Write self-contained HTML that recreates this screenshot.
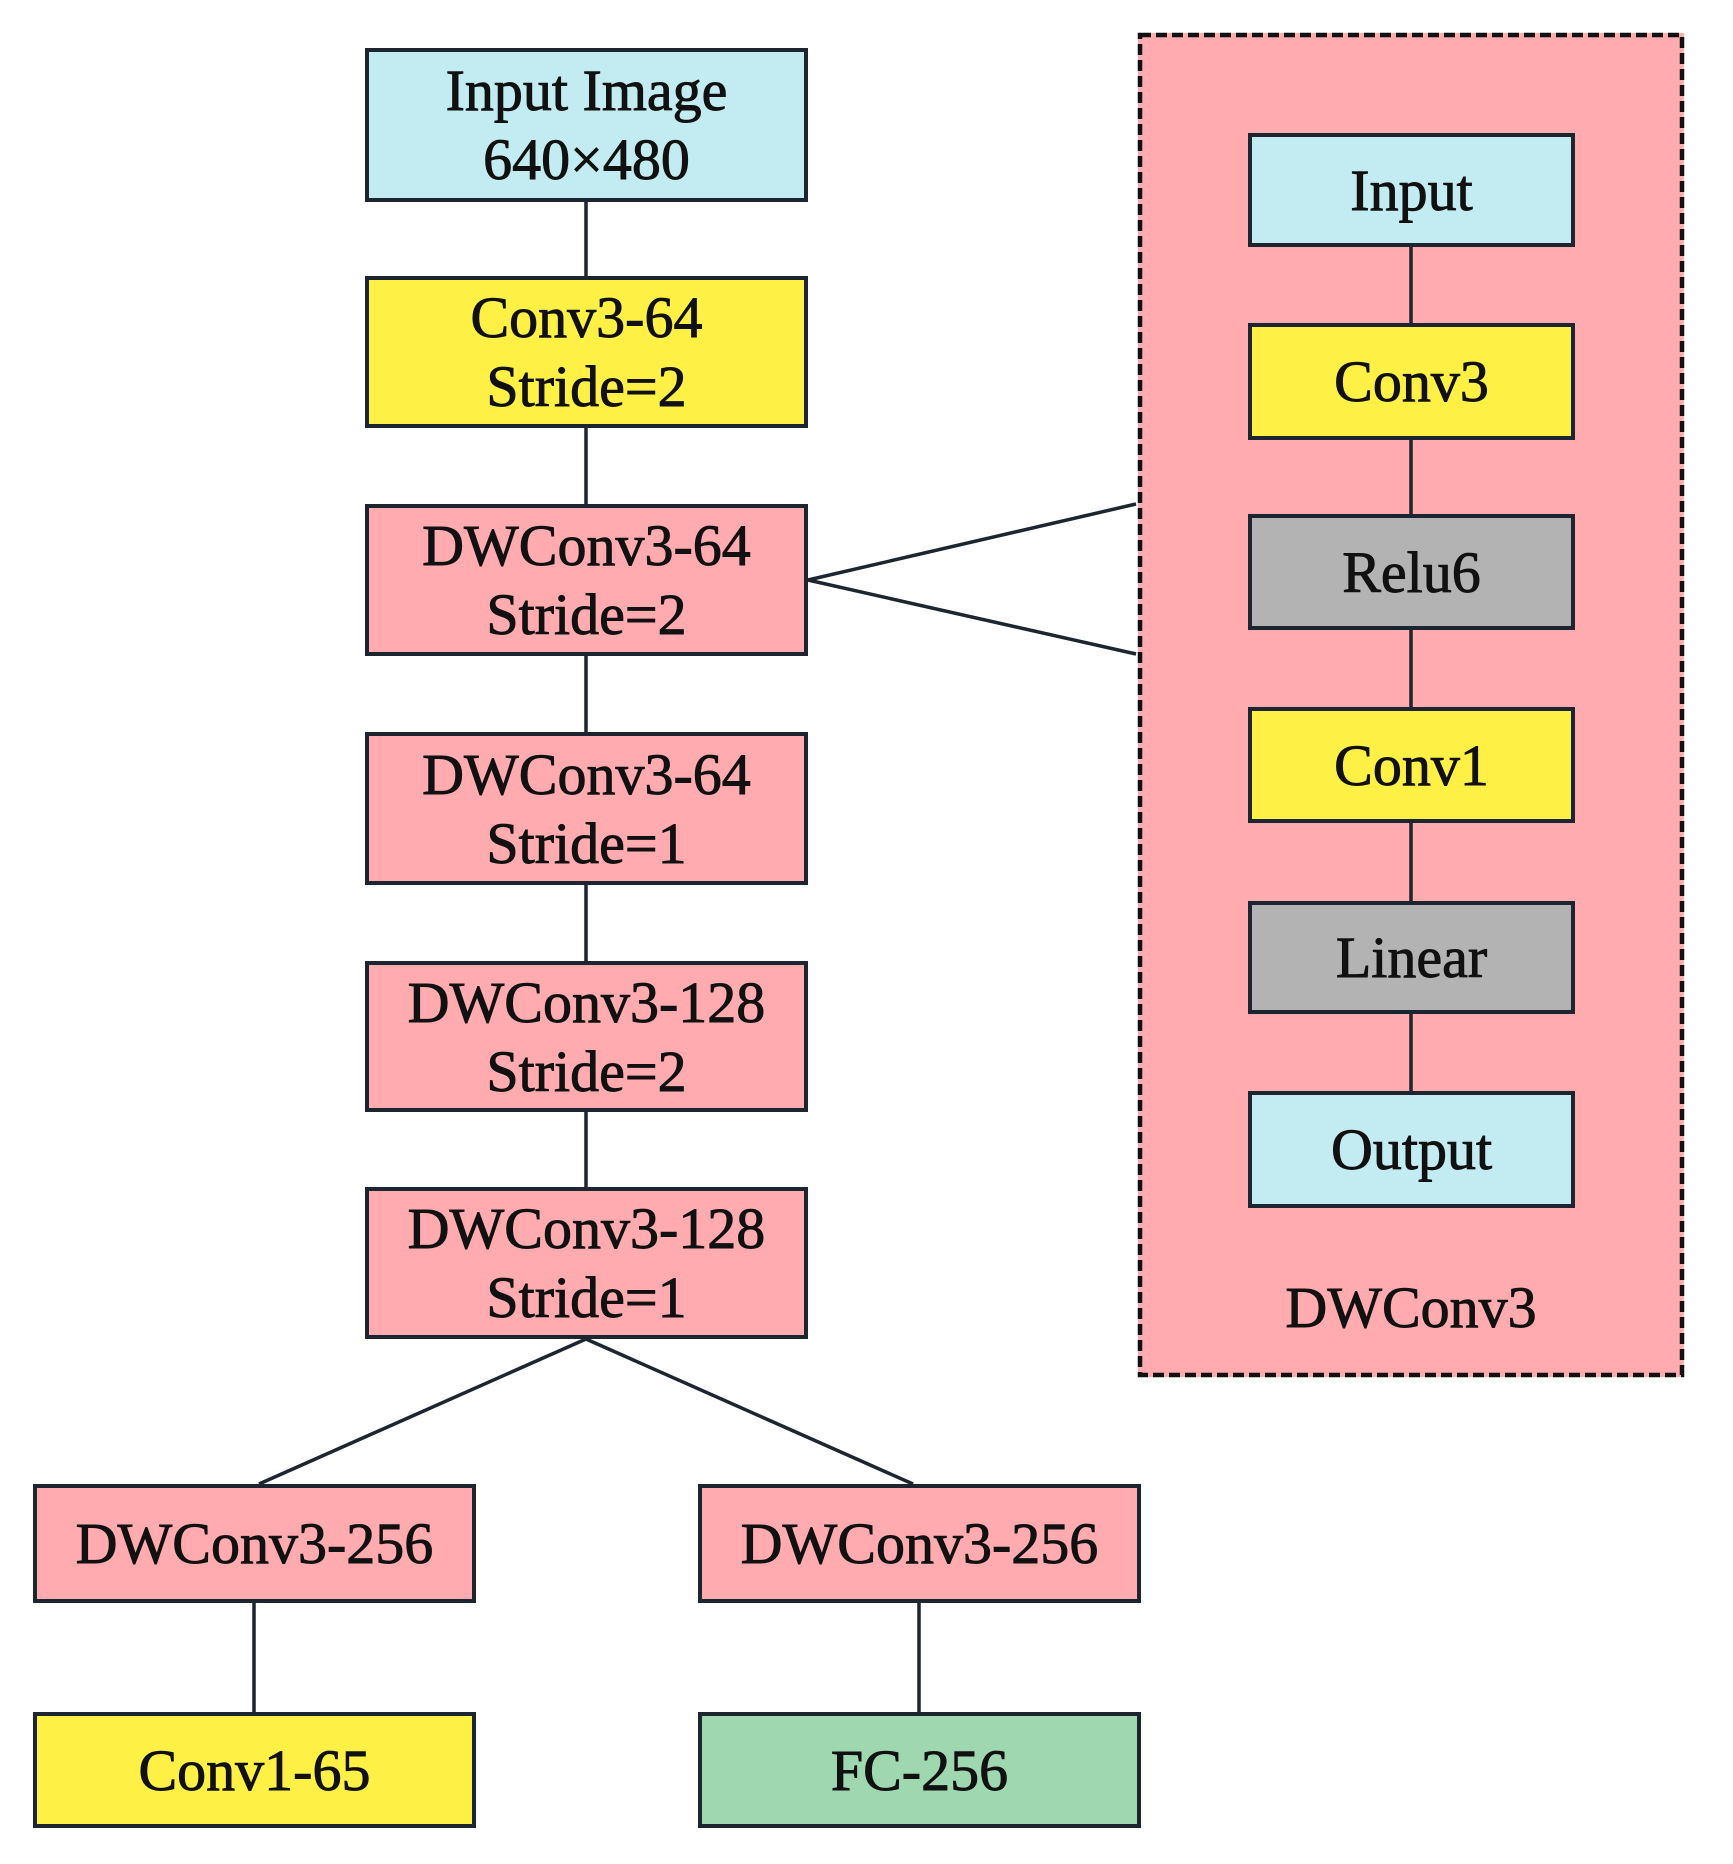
<!DOCTYPE html>
<html><head><style>
html,body{margin:0;padding:0;background:#fff;}
body{width:1733px;height:1864px;position:relative;overflow:hidden;font-family:"Liberation Serif",serif;}
.b{position:absolute;box-sizing:border-box;border:4px solid #1c2530;display:flex;flex-direction:column;align-items:center;justify-content:center;font-size:58px;line-height:69px;color:#111;text-align:center;-webkit-text-stroke:0.9px #111;}
.c{background:#c3ecf2}.y{background:#fff046}.p{background:#ffabaf}.g{background:#b3b3b3}.gr{background:#9fd8b0}
svg{position:absolute;left:0;top:0}
</style></head><body>
<div style="position:absolute;left:1138px;top:33px;width:546px;height:1344px;background:#ffabaf;"></div>
<svg width="1733" height="1864">
<rect x="1140" y="35" width="542" height="1340" fill="none" stroke="#111" stroke-width="4.5" stroke-dasharray="11,5"/>
<g stroke="#1c2530" stroke-width="3.5" fill="none">
<line x1="586" y1="202" x2="586" y2="1187"/>
<line x1="586" y1="1339" x2="259" y2="1484"/>
<line x1="586" y1="1339" x2="913" y2="1484"/>
<line x1="254" y1="1603" x2="254" y2="1712"/>
<line x1="919" y1="1603" x2="919" y2="1712"/>
<line x1="808" y1="580" x2="1136" y2="504"/>
<line x1="808" y1="580" x2="1136" y2="654"/>
<line x1="1411" y1="247" x2="1411" y2="1091"/>
</g></svg>
<div class="b c" style="left:365px;top:48px;width:443px;height:154px">Input Image<br>640×480</div>
<div class="b y" style="left:365px;top:276px;width:443px;height:152px">Conv3-64<br>Stride=2</div>
<div class="b p" style="left:365px;top:504px;width:443px;height:152px">DWConv3-64<br>Stride=2</div>
<div class="b p" style="left:365px;top:732px;width:443px;height:153px">DWConv3-64<br>Stride=1</div>
<div class="b p" style="left:365px;top:961px;width:443px;height:151px">DWConv3-128<br>Stride=2</div>
<div class="b p" style="left:365px;top:1187px;width:443px;height:152px">DWConv3-128<br>Stride=1</div>
<div class="b p" style="left:33px;top:1484px;width:443px;height:119px">DWConv3-256</div>
<div class="b p" style="left:698px;top:1484px;width:443px;height:119px">DWConv3-256</div>
<div class="b y" style="left:33px;top:1712px;width:443px;height:116px">Conv1-65</div>
<div class="b gr" style="left:698px;top:1712px;width:443px;height:116px">FC-256</div>
<div class="b c" style="left:1248px;top:133px;width:327px;height:114px">Input</div>
<div class="b y" style="left:1248px;top:323px;width:327px;height:117px">Conv3</div>
<div class="b g" style="left:1248px;top:514px;width:327px;height:116px">Relu6</div>
<div class="b y" style="left:1248px;top:707px;width:327px;height:116px">Conv1</div>
<div class="b g" style="left:1248px;top:901px;width:327px;height:113px">Linear</div>
<div class="b c" style="left:1248px;top:1091px;width:327px;height:117px">Output</div>
<div style="position:absolute;left:1138px;width:546px;top:1270px;text-align:center;font-size:58px;line-height:76px;color:#111;-webkit-text-stroke:0.9px #111;">DWConv3</div>
</body></html>
